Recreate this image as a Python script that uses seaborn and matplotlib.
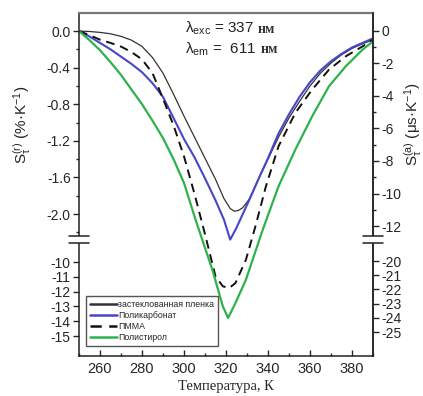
import numpy as np
import matplotlib
matplotlib.use('Agg')
import matplotlib.pyplot as plt
import seaborn as sns
from matplotlib.ticker import FixedLocator, FuncFormatter, MultipleLocator
from matplotlib.lines import Line2D
from matplotlib.patches import Rectangle

# ---------------- data (left-axis units; lower section uses lower scale) -------------
series_names = ['застеклованная пленка', 'Поликарбонат', 'ПММА', 'Полистирол']

black_T = [250, 255, 260, 265, 270, 275, 280, 285, 290, 295, 300, 305, 310, 315, 319, 322,
           324, 326, 328, 331, 335, 340, 345, 350, 355, 360, 365, 370, 375, 380, 385, 390]
black_v = [0, -0.005, -0.015, -0.03, -0.058, -0.10, -0.168, -0.29, -0.46, -0.69, -0.93,
           -1.16, -1.39, -1.62, -1.83, -1.94, -1.97, -1.96, -1.93, -1.84, -1.64, -1.40,
           -1.16, -0.95, -0.77, -0.60, -0.46, -0.35, -0.26, -0.19, -0.14, -0.095]

blue_T = [250, 255, 260, 265, 270, 275, 280, 285, 290, 295, 300, 305, 310, 315, 319, 322,
          325, 328, 332, 336, 340, 345, 350, 355, 360, 365, 370, 375, 380, 385, 390]
blue_v = [0, -0.06, -0.13, -0.20, -0.28, -0.36, -0.45, -0.57, -0.72, -0.95, -1.18, -1.38,
          -1.61, -1.85, -2.06, -2.28, -2.15, -2.00, -1.80, -1.59, -1.39, -1.12, -0.91,
          -0.72, -0.56, -0.43, -0.33, -0.25, -0.18, -0.13, -0.08]

pmma_T = [250, 255, 260, 265, 270, 275, 280, 285, 290, 295, 300, 305, 310, 315, 318.5,
          321.5, 324.5, 329.5, 334, 339, 345, 353, 361, 369, 377, 385, 390]
pmma_v = [0, -0.045, -0.095, -0.13, -0.17, -0.23, -0.31, -0.46, -0.74, -1.03, -1.37, -1.78,
          -2.22, -10.97, -11.64, -11.76, -11.42, -9.84, -2.135, -1.698, -1.26, -0.896,
          -0.641, -0.423, -0.277, -0.168, -0.095]

ps_T = [250, 255, 260, 265, 270, 275, 280, 285, 290, 295, 300, 305.5, 313.5, 318.5, 321,
        324.5, 329.5, 337.5, 345, 353, 361, 369, 377, 385, 390]
ps_v = [0, -0.10, -0.21, -0.34, -0.48, -0.64, -0.80, -0.98, -1.17, -1.40, -1.66, -2.062,
        -10.52, -13.0, -13.78, -12.77, -11.19, -2.171, -1.698, -1.297, -0.933, -0.605,
        -0.386, -0.204, -0.113]

left_major = [0.0, -0.4, -0.8, -1.2, -1.6, -2.0, -10, -11, -12, -13, -14, -15]
left_minor = [-0.2, -0.6, -1.0, -1.4, -1.8, -2.2]
right_major = [0, -2, -4, -6, -8, -10, -12, -20, -21, -22, -23, -24, -25]
right_minor = [-1, -3, -5, -7, -9, -11]

# ---------------- broken (piecewise) scales ----------------
L_XP = np.array([-100.0, -8.5, -2.28, 100.0])
L_U = np.array([262 + 14.8 * 90, 239.8, 31 + 91.5 * 2.28, 31 - 91.5 * 100])
R_XP = np.array([-100.0, -18.507, -12.83, 100.0])
R_U = np.array([261 + 14.2 * 80, 239.8, 30.5 + 16.3 * 12.83, 30.5 - 16.3 * 100])


def fwd_l(v):
    return np.interp(v, L_XP, -L_U)


def inv_l(w):
    return np.interp(w, -L_U, L_XP)


def fwd_r(v):
    return np.interp(v, R_XP, -R_U)


def inv_r(w):
    return np.interp(w, -R_U, R_XP)


sns.set_style('ticks')
plt.rcParams['font.family'] = ['Liberation Sans', 'DejaVu Sans']
plt.rcParams['axes.unicode_minus'] = False
plt.rcParams['mathtext.default'] = 'regular'

fig = plt.figure(figsize=(4.23, 3.96), dpi=100)
ax = fig.add_axes([79 / 423, 40 / 396, 294 / 423, 343 / 396])
ax.set_yscale('function', functions=(fwd_l, inv_l))

sns.lineplot(x=black_T, y=black_v, ax=ax, color='#333333', lw=0.9, label=series_names[0])
sns.lineplot(x=blue_T, y=blue_v, ax=ax, color='#4646c8', lw=1.5, label=series_names[1])
sns.lineplot(x=pmma_T, y=pmma_v, ax=ax, color='#111111', lw=1.4, ls=(0, (4.5, 3)),
             label=series_names[2])
sns.lineplot(x=ps_T, y=ps_v, ax=ax, color='#2eb24a', lw=1.6, label=series_names[3])

ax.set_xlim(250, 390)
ax.set_ylim(-16.35, 0.197)
ax.xaxis.set_major_locator(MultipleLocator(20))
ax.xaxis.set_minor_locator(MultipleLocator(10))
ax.yaxis.set_major_locator(FixedLocator(left_major))
ax.yaxis.set_minor_locator(FixedLocator(left_minor))
ax.yaxis.set_major_formatter(FuncFormatter(lambda v, p: f'{v:.1f}' if abs(v) < 5 else f'{v:.0f}'))
ax.tick_params(axis='x', which='major', direction='in', length=4, width=1, labelsize=10.5, pad=4)
ax.tick_params(axis='x', which='minor', direction='in', length=2.5, width=1)
ax.tick_params(axis='y', which='major', direction='out', length=4, width=1, labelsize=10, pad=2)
ax.tick_params(axis='y', which='minor', direction='out', length=2.5, width=1)

ax.set_xlabel('Температура, К', family=['Liberation Serif', 'DejaVu Serif'], fontsize=10.5,
              labelpad=3)
ax.set_ylabel(r'S$_\tau^{(r)}$ (%·K$^{-1}$)', fontsize=11)
ax.yaxis.set_label_coords(-0.155, 0.675)

for side in ['left', 'bottom', 'right']:
    ax.spines[side].set_color('#222222')
    ax.spines[side].set_linewidth(1.1)
ax.spines['top'].set_color('#777777')
ax.spines['top'].set_linewidth(1.6)

# right axis
ax2 = ax.twinx()
ax2.set_yscale('function', functions=(fwd_r, inv_r))
ax2.set_ylim(-26.69, 1.074)
ax2.yaxis.set_major_locator(FixedLocator(right_major))
ax2.yaxis.set_minor_locator(FixedLocator(right_minor))
ax2.yaxis.set_major_formatter(FuncFormatter(lambda v, p: f'{v:.0f}'))
ax2.tick_params(axis='y', which='major', direction='out', length=4, width=1, labelsize=10, pad=2)
ax2.tick_params(axis='y', which='minor', direction='out', length=2.5, width=1)
ax2.set_ylabel(r'S$_\tau^{(a)}$ (μs·K$^{-1}$)', fontsize=11)
ax2.yaxis.set_label_coords(1.10, 0.675)
for side in ['left', 'bottom', 'top']:
    ax2.spines[side].set_visible(False)
ax2.spines['right'].set_color('#222222')
ax2.spines['right'].set_linewidth(1.1)

# axis break marks
y_hi, y_lo = (356 - 236) / 343, (356 - 243) / 343
dx = 10 / 294
for xs in (0.0, 1.0):
    ax2.add_patch(Rectangle((xs - 0.01, y_lo), 0.02, y_hi - y_lo, transform=ax2.transAxes,
                            facecolor='white', edgecolor='none', clip_on=False, zorder=10))
    for yy in (y_hi, y_lo):
        ax2.add_line(Line2D([xs - dx, xs + dx], [yy, yy], transform=ax2.transAxes,
                            color='#222222', lw=1.1, clip_on=False, zorder=11))

# annotation
for ytxt, txt in ((0.942, r'λ$_{exc}$ = 337'), (0.883, r'λ$_{em}$ =  611')):
    t = ax.text(0.361, ytxt, txt, transform=ax.transAxes, fontsize=11, va='baseline',
                ha='left', color='#222222')
    ax.annotate('нм', xy=(1.0, ytxt), xycoords=(t, 'axes fraction'), xytext=(3, 0),
                textcoords='offset points', fontsize=10, va='baseline', ha='left',
                family=['Liberation Serif', 'DejaVu Serif'], fontweight='bold',
                color='#333333')

leg = ax.legend(loc='lower left', bbox_to_anchor=(0.024, 0.029), fontsize=6.3,
                handlelength=3.0, handletextpad=0.15, labelspacing=0.2, borderpad=0.5,
                borderaxespad=0, fancybox=False, framealpha=1, edgecolor='#555555')
leg.get_frame().set_linewidth(1.0)
for ln in leg.get_lines():
    ln.set_linewidth(1.8)

fig.savefig('out.png', dpi=100)
